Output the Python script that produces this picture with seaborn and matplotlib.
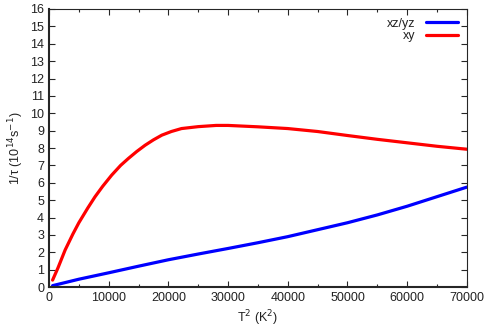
# 1/tau vs T^2 for the xz/yz and xy channels
import pandas as pd
import matplotlib
matplotlib.use("Agg")
import matplotlib.pyplot as plt
import seaborn as sns

# values
t2_xy = [600, 1500, 2700, 4000, 5000, 6500, 7700, 9000, 10500, 12000, 13300, 14700, 16100,
         17500, 18900, 20500, 22200, 25000, 28000, 30000, 35000, 40000, 45000, 50000,
         55000, 60000, 65000, 70000]
rate_xy = [0.4, 1.1, 2.13, 3.05, 3.7, 4.55, 5.19, 5.8, 6.44, 7.0, 7.4, 7.8, 8.16,
           8.47, 8.74, 8.95, 9.12, 9.23, 9.3, 9.3, 9.22, 9.12, 8.95, 8.72,
           8.5, 8.3, 8.1, 7.93]

t2_xz = [600, 5000, 10000, 15000, 20000, 25000, 30000, 35000, 40000, 45000, 50000, 55000, 60000, 65000, 70000]
rate_xz = [0.08, 0.45, 0.82, 1.2, 1.57, 1.9, 2.22, 2.55, 2.9, 3.3, 3.7, 4.15, 4.65, 5.2, 5.75]

df = pd.concat([
    pd.DataFrame({"T2": t2_xz, "rate": rate_xz, "mode": "xz/yz"}),
    pd.DataFrame({"T2": t2_xy, "rate": rate_xy, "mode": "xy"}),
])

sns.set_style("ticks")
plt.rcParams['font.family'] = ['Liberation Sans', 'DejaVu Sans']

fig = plt.figure(figsize=(4.91, 3.33), dpi=100)
ax = fig.add_axes([0.0998, 0.138, 0.851, 0.835])

sns.lineplot(data=df, x="T2", y="rate", hue="mode", palette={"xz/yz": "#0000ff", "xy": "#ff0000"},
             linewidth=2.3, ax=ax, sort=False)

ax.set_xlim(0, 70000)
ax.set_ylim(0, 16)
ax.set_xticks(range(0, 70001, 10000))
ax.set_xticks(range(5000, 70000, 10000), minor=True)
ax.set_yticks(range(0, 17))
ax.tick_params(direction="in", top=True, right=True, labelsize=9, length=4, width=0.8,
               labelcolor="#222222")
ax.tick_params(which="minor", direction="in", top=True, length=2, width=0.8)
for s in ax.spines.values():
    s.set_linewidth(0.8)
ax.spines["left"].set_linewidth(1.5)
ax.spines["bottom"].set_linewidth(1.5)

ax.set_xlabel("T$^2$ (K$^2$)", fontsize=9, labelpad=3, color="#222222")
ax.set_ylabel("1/\u03c4 (10$^{14}$s$^{-1}$)", fontsize=9, labelpad=3, color="#222222")

leg = ax.legend(loc="upper right", frameon=False, markerfirst=False, fontsize=9,
                handlelength=2.6, borderaxespad=0.3, labelspacing=0.05, title=None)
for t in leg.get_texts():
    t.set_color("#222222")

fig.savefig("out.png", dpi=100)
